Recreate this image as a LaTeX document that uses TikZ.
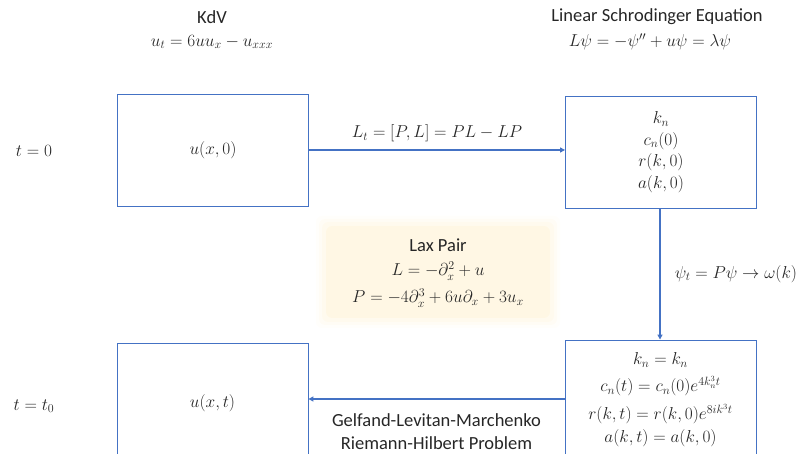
\documentclass[tikz,border=0pt]{standalone}
\usepackage{fontspec}
\setmainfont{Carlito}
\usetikzlibrary{arrows.meta}
\definecolor{boxblue}{RGB}{68,114,196}
\definecolor{laxfill}{RGB}{255,247,228}
\definecolor{txtgray}{RGB}{38,38,38}
\begin{document}
\begin{tikzpicture}[x=1pt,y=-1pt,
  every node/.style={inner sep=0pt,text=txtgray},
  txt/.style={font=\fontsize{18.5}{23}\selectfont,align=center},
  mth/.style={font=\fontsize{16.5}{23}\selectfont,align=center},
  stagebox/.style={mth,draw=boxblue,line width=0.9pt,minimum width=191pt},
  flow/.style={draw=boxblue,line width=1.5pt,-{Triangle[length=5pt,width=5pt]}}]
\useasboundingbox (0,0) rectangle (807,454);
% Lax pair glow
\foreach \i/\op in {10/0.15,7/0.25,4/0.4,0/1}{
  \fill[laxfill,opacity=\op,rounded corners=6pt] (326-\i,226-\i) rectangle (550+\i,318+\i);
}
% headers
\node[txt] (kdvt) at (212,17) {KdV};
\node[mth] (kdve) at (212,42) {$u_t = 6uu_x - u_{xxx}$};
\node[txt] (lset) at (657,17) {Linear Schrodinger Equation};
\node[mth] (lsee) at (650,42) {$L\psi = -\psi'' + u\psi = \lambda\psi$};
% time labels
\node[mth] (t0) at (34,151) {$t = 0$};
\node[mth] (tt) at (34,406) {$t = t_0$};
% boxes
\node[stagebox,minimum height=112pt,font=\fontsize{16.5}{21.5}\selectfont] (A) at (213,150) {$u(x,0)$};
\node[stagebox,minimum height=112pt,font=\fontsize{16.5}{21.5}\selectfont] (B) at (661,152)
  {$k_n$\\$c_n(0)$\\$r(k,0)$\\$a(k,0)$};
\node[stagebox,minimum height=120pt] (C) at (212.5,403) {$u(x,t)$};
\node[stagebox,minimum height=120pt] (D) at (660.5,400)
  {$k_n = k_n$\\[4pt]$c_n(t) = c_n(0)e^{4k_n^3 t}$\\[5pt]$r(k,t) = r(k,0)e^{8ik^3 t}$\\$a(k,t)=a(k,0)$};
% Lax pair text
\node[txt] (laxt) at (438,245) {Lax Pair};
\node[mth] (laxL) at (438,271) {$L = -\partial_x^2 + u$};
\node[mth] (laxP) at (438,298) {$P = -4\partial_x^3 + 6u\partial_x + 3u_x$};
% connectors
\draw[flow] (A.east) -- (B.west |- A.east)
  node[midway,above=7pt,mth] (l1) {$L_t = [P,L] = PL - LP$};
\draw[flow] (B.south -| 660,0) -- (D.north -| 660,0)
  node[midway,right=14pt,mth] (l2) {$\psi_t = P\psi \rightarrow \omega(k)$};
\draw[flow] ([yshift=1pt]D.west) -- ([yshift=1pt]C.east |- D.west)
  node[midway,below=14pt,txt] (l3) {Gelfand-Levitan-Marchenko\\Riemann-Hilbert Problem};
\end{tikzpicture}
\end{document}
